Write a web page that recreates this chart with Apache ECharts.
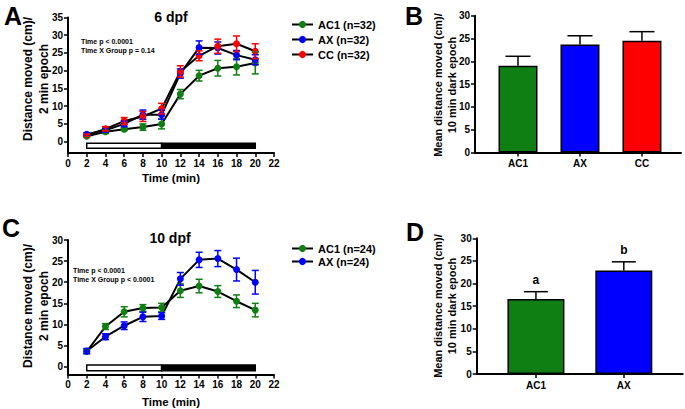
<!DOCTYPE html>
<html><head><meta charset="utf-8">
<script src="https://cdn.jsdelivr.net/npm/echarts@6/dist/echarts.min.js"></script>
<style>html,body{margin:0;padding:0;background:#fff}#c{width:685px;height:409px}</style>
</head><body><div id="c"></div>
<script>
// ---------- data ----------
const timeMin = [2, 4, 6, 8, 10, 12, 14, 16, 18, 20];
const xTickValues = [0, 2, 4, 6, 8, 10, 12, 14, 16, 18, 20, 22];
const yTicksA = [0, 5, 10, 15, 20, 25, 30, 35];
const yTicksC = [0, 5, 10, 15, 20, 25, 30];
const lightPhase = [2, 10];
const darkPhase = [10, 20];

// Panel A: 6 dpf
const namesA = ['AC1 (n=32)', 'AX (n=32)', 'CC (n=32)'];
const ac1_6 = [1.5, 2.8, 3.5, 4.1, 5.0, 13.4, 18.6, 20.7, 21.1, 22.2];
const ac1_6_err = [0.3, 0.5, 0.4, 0.9, 1.4, 1.3, 1.5, 2.2, 2.3, 3.1];
const ax_6 = [2.1, 3.2, 5.0, 7.6, 7.6, 19.2, 26.5, 26.4, 24.4, 23.1];
const ax_6_err = [0.4, 0.5, 0.8, 1.3, 1.3, 1.3, 1.9, 1.7, 1.3, 1.4];
const cc_6 = [1.8, 3.6, 5.8, 7.1, 9.3, 19.8, 24.2, 26.9, 27.6, 25.5];
const cc_6_err = [0.3, 0.6, 1.0, 1.4, 1.5, 1.6, 1.4, 2.0, 2.2, 2.1];

// Panel B
const groupsB = ['AC1', 'AX', 'CC'];
const meanB = [19.0, 23.7, 24.5];
const errB = [2.1, 1.9, 2.0];

// Panel C: 10 dpf
const namesC = ['AC1 (n=24)', 'AX (n=24)'];
const ac1_10 = [3.6, 9.5, 13.0, 13.9, 14.0, 18.0, 19.1, 17.8, 15.5, 13.4];
const ac1_10_err = [0.5, 0.7, 1.2, 0.8, 1.0, 1.6, 1.6, 1.4, 1.5, 1.6];
const ax_10 = [3.7, 7.1, 9.7, 11.8, 12.0, 20.8, 25.3, 25.6, 23.0, 20.0];
const ax_10_err = [0.6, 0.7, 0.9, 1.1, 0.8, 1.5, 1.8, 1.9, 2.7, 2.8];

// Panel D
const groupsD = ['AC1', 'AX'];
const meanD = [16.6, 22.9];
const errD = [1.6, 1.9];
const lettersD = ['a', 'b'];

// ---------- styling ----------
const FONT = 'Liberation Sans, Arial, sans-serif';
const GREEN = '#0f7f14';
const BLUE = '#0000ff';
const RED = '#ff0000';
const colorsBar = {AC1: GREEN, AX: BLUE, CC: RED};

const axisLineS = {onZero: false, lineStyle: {color: '#000', width: 2}};
const tickS = (vals) => ({show: true, length: 4, lineStyle: {color: '#000', width: 1.5}, customValues: vals});
const labelS = (vals, extra) => Object.assign({color: '#000', fontWeight: 'bold', fontSize: 10, fontFamily: FONT, margin: 5, customValues: vals}, extra || {});

function lineErr(color) {
  return function (params, api) {
    const x = api.value(0), m = api.value(1), e = api.value(2);
    const t = api.coord([x, m + e]), b = api.coord([x, m - e]);
    const w = 3.5, st = {stroke: color, lineWidth: 1.5};
    return {type: 'group', children: [
      {type: 'line', shape: {x1: t[0], y1: t[1], x2: b[0], y2: b[1]}, style: st},
      {type: 'line', shape: {x1: t[0] - w, y1: t[1], x2: t[0] + w, y2: t[1]}, style: st},
      {type: 'line', shape: {x1: b[0] - w, y1: b[1], x2: b[0] + w, y2: b[1]}, style: st}
    ]};
  };
}
function barErr(halfCap, letters) {
  return function (params, api) {
    const x = api.value(0), m = api.value(1), e = api.value(2);
    const letter = letters ? letters[params.dataIndex] : null;
    const base = api.coord([x, m]), t = api.coord([x, m + e]);
    const st = {stroke: '#000', lineWidth: 1.5};
    const ch = [
      {type: 'line', shape: {x1: base[0], y1: base[1], x2: t[0], y2: t[1]}, style: st},
      {type: 'line', shape: {x1: t[0] - halfCap, y1: t[1], x2: t[0] + halfCap, y2: t[1]}, style: st}
    ];
    if (letter) ch.push({type: 'text', x: t[0], y: t[1] - 12, style: {text: letter, align: 'center', verticalAlign: 'middle', font: 'bold 12px ' + FONT, fill: '#000'}});
    return {type: 'group', children: ch};
  };
}
function phaseBand(yTop, yBot) {
  return function (params, api) {
    const s = api.value(0), e = api.value(1), dark = api.value(2);
    const p1 = api.coord([s, yTop]), p2 = api.coord([e, yBot]);
    return {type: 'rect', shape: {x: p1[0], y: p1[1], width: p2[0] - p1[0], height: p2[1] - p1[1]},
      style: {fill: dark ? '#000' : '#fff', stroke: '#000', lineWidth: 1.5}};
  };
}

function lineSeries(name, vals, color, ax) {
  return {name: name, type: 'line', xAxisIndex: ax, yAxisIndex: ax,
    data: timeMin.map((t, i) => [t, vals[i]]),
    lineStyle: {color: '#000', width: 2}, itemStyle: {color: color},
    symbol: 'circle', symbolSize: 7, z: 3, animation: false};
}
function errSeries(vals, errs, color, ax) {
  return {type: 'custom', xAxisIndex: ax, yAxisIndex: ax, renderItem: lineErr(color),
    data: timeMin.map((t, i) => [t, vals[i], errs[i]]), encode: {x: 0, y: 1}, z: 4, silent: true, animation: false};
}

const chart = echarts.init(document.getElementById('c'), null, {renderer: 'svg'});

function txt(text, x, y, size, opts) {
  opts = opts || {};
  const st = {text: text, font: 'bold ' + size + 'px ' + FONT, fill: '#000', align: opts.align || 'center', verticalAlign: 'middle'};
  if (opts.lineHeight) st.lineHeight = opts.lineHeight;
  const el = {type: 'text', x: x, y: y, style: st};
  if (opts.rotation) el.rotation = opts.rotation;
  return el;
}

const option = {
  backgroundColor: '#fff',
  animation: false,
  grid: [
    {left: 68, top: 17.5, width: 206, height: 135.5},
    {left: 475, top: 15.7, width: 206, height: 136.8},
    {left: 68, top: 240, width: 206, height: 134.5},
    {left: 476.7, top: 238.3, width: 206, height: 135.7}
  ],
  xAxis: [
    {type: 'value', gridIndex: 0, min: 0, max: 22, interval: 2, axisLine: axisLineS, axisTick: tickS(xTickValues), axisLabel: labelS(xTickValues), splitLine: {show: false},
      name: 'Time (min)', nameLocation: 'middle', nameGap: 19, nameTextStyle: {color: '#000', fontWeight: 'bold', fontSize: 11.5, fontFamily: FONT}},
    {type: 'value', gridIndex: 1, min: -0.694, max: 2.63, axisLine: axisLineS, axisTick: tickS([0, 1, 2]),
      axisLabel: labelS([0, 1, 2], {formatter: v => groupsB[Math.round(v)], margin: 6}), splitLine: {show: false}},
    {type: 'value', gridIndex: 2, min: 0, max: 22, interval: 2, axisLine: axisLineS, axisTick: tickS(xTickValues), axisLabel: labelS(xTickValues), splitLine: {show: false},
      name: 'Time (min)', nameLocation: 'middle', nameGap: 21, nameTextStyle: {color: '#000', fontWeight: 'bold', fontSize: 11.5, fontFamily: FONT}},
    {type: 'value', gridIndex: 3, min: -0.674, max: 1.67, axisLine: axisLineS, axisTick: tickS([0, 1]),
      axisLabel: labelS([0, 1], {formatter: v => groupsD[Math.round(v)], margin: 6}), splitLine: {show: false}}
  ],
  yAxis: [
    {type: 'value', gridIndex: 0, min: -3.2, max: 35, axisLine: axisLineS, axisTick: tickS(yTicksA), axisLabel: labelS(yTicksA), splitLine: {show: false}},
    {type: 'value', gridIndex: 1, min: 0, max: 30, interval: 5, axisLine: axisLineS, axisTick: tickS(yTicksC), axisLabel: labelS(yTicksC), splitLine: {show: false}},
    {type: 'value', gridIndex: 2, min: -1.85, max: 30, axisLine: axisLineS, axisTick: tickS(yTicksC), axisLabel: labelS(yTicksC), splitLine: {show: false}},
    {type: 'value', gridIndex: 3, min: 0, max: 30, interval: 5, axisLine: axisLineS, axisTick: tickS(yTicksC), axisLabel: labelS(yTicksC), splitLine: {show: false}}
  ],
  legend: [
    {data: namesA, orient: 'vertical', left: 286, top: 14, itemWidth: 21, itemHeight: 9, itemGap: 4, selectedMode: false,
      textStyle: {color: '#000', fontWeight: 'bold', fontSize: 11, fontFamily: FONT}},
    {data: namesC, orient: 'vertical', left: 286, top: 238, itemWidth: 21, itemHeight: 9, itemGap: 2, selectedMode: false,
      textStyle: {color: '#000', fontWeight: 'bold', fontSize: 11, fontFamily: FONT}}
  ],
  series: [
    {type: 'custom', xAxisIndex: 0, yAxisIndex: 0, renderItem: phaseBand(-0.45, -1.86),
      data: [[lightPhase[0], lightPhase[1], 0], [darkPhase[0], darkPhase[1], 1]], encode: {x: [0, 1]}, z: 2, silent: true},
    lineSeries(namesA[0], ac1_6, GREEN, 0),
    lineSeries(namesA[1], ax_6, BLUE, 0),
    lineSeries(namesA[2], cc_6, RED, 0),
    errSeries(ac1_6, ac1_6_err, GREEN, 0),
    errSeries(ax_6, ax_6_err, BLUE, 0),
    errSeries(cc_6, cc_6_err, RED, 0),

    {type: 'bar', xAxisIndex: 1, yAxisIndex: 1, barWidth: 39,
      data: groupsB.map((g, i) => ({value: [i, meanB[i]], itemStyle: {color: colorsBar[g], borderColor: '#000', borderWidth: 1.5}})), z: 2},
    {type: 'custom', xAxisIndex: 1, yAxisIndex: 1, renderItem: barErr(12.5, null),
      data: groupsB.map((g, i) => [i, meanB[i], errB[i]]), encode: {x: 0, y: 1}, z: 3, silent: true},

    {type: 'custom', xAxisIndex: 2, yAxisIndex: 2, renderItem: phaseBand(0.4, -0.95),
      data: [[lightPhase[0], lightPhase[1], 0], [darkPhase[0], darkPhase[1], 1]], encode: {x: [0, 1]}, z: 2, silent: true},
    lineSeries(namesC[0], ac1_10, GREEN, 2),
    lineSeries(namesC[1], ax_10, BLUE, 2),
    errSeries(ac1_10, ac1_10_err, GREEN, 2),
    errSeries(ax_10, ax_10_err, BLUE, 2),

    {type: 'bar', xAxisIndex: 3, yAxisIndex: 3, barWidth: 57,
      data: groupsD.map((g, i) => ({value: [i, meanD[i]], itemStyle: {color: colorsBar[g], borderColor: '#000', borderWidth: 1.5}})), z: 2},
    {type: 'custom', xAxisIndex: 3, yAxisIndex: 3, renderItem: barErr(12, lettersD),
      data: groupsD.map((g, i) => [i, meanD[i], errD[i]]), encode: {x: 0, y: 1}, z: 3, silent: true}
  ],
  graphic: {elements: [
    txt('A', 13, 16, 25),
    txt('B', 414, 16, 25),
    txt('C', 11, 228, 25),
    txt('D', 415, 232, 25),
    txt('6 dpf', 171, 17, 14),
    txt('10 dpf', 170, 238, 14),
    txt('Time p < 0.0001', 81, 41, 7, {align: 'left'}),
    txt('Time X Group p = 0.14', 81, 50, 7, {align: 'left'}),
    txt('Time p < 0.0001', 73, 270, 7, {align: 'left'}),
    txt('Time X Group p < 0.0001', 73, 279, 7, {align: 'left'}),
    txt('Distance moved (cm)/\n2 min epoch', 36, 79, 12, {rotation: Math.PI / 2, lineHeight: 16}),
    txt('Distance moved (cm)/\n2 min epoch', 36, 306, 12, {rotation: Math.PI / 2, lineHeight: 16}),
    txt('Mean distance moved (cm)/\n10 min dark epoch', 444.5, 85, 11, {rotation: Math.PI / 2, lineHeight: 14}),
    txt('Mean distance moved (cm)/\n10 min dark epoch', 444.5, 306, 11, {rotation: Math.PI / 2, lineHeight: 14})
  ]}
};
chart.setOption(option);
</script>
</body></html>
